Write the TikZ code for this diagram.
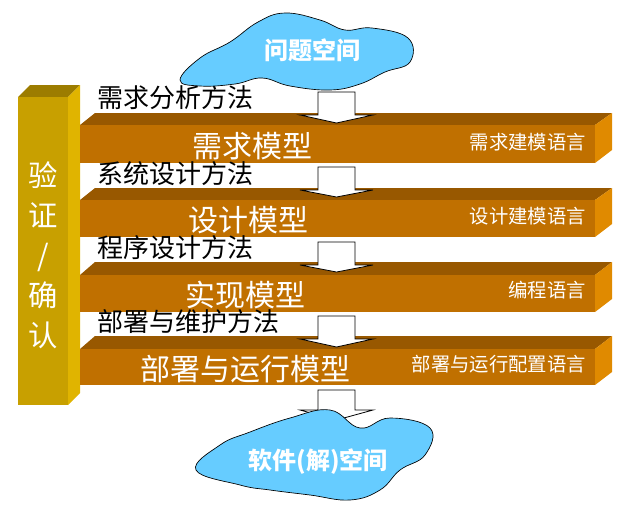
\documentclass[tikz,border=0pt]{standalone}
\usepackage{fontspec}
\setmainfont{Noto Sans CJK SC}
\usetikzlibrary{positioning}
\definecolor{barfront}{HTML}{C07000}
\definecolor{bartop}{HTML}{985800}
\definecolor{barside}{HTML}{E08A00}
\definecolor{pilfront}{HTML}{C8A000}
\definecolor{pilside}{HTML}{E0B400}
\definecolor{piltop}{HTML}{9C7C00}
\definecolor{cloudblue}{HTML}{66CCFF}
\tikzset{
  method/.style={anchor=west, font=\fontsize{19.5}{19.5}\selectfont, inner sep=0},
  model/.style={text=white, font=\fontsize{22.5}{22.5}\selectfont, inner sep=0},
  lang/.style={anchor=east, text=white, font=\fontsize{14.5}{14.5}\selectfont, inner sep=0},
  flow/.style={draw=black, fill=white, line width=0.6pt},
  cloud/.style={draw=black, fill=cloudblue, line width=0.5pt},
  space/.style={text=white, font=\bfseries\fontsize{18}{18}\selectfont}
}
% block arrow: x centre, top, shaft bottom, tip
\newcommand{\blockarrow}[3]{%
  \draw[flow] (318,#1) -- (355,#1) -- (355,#2) -- (373,#2) -- (336.5,#3)
     -- (300,#2) -- (318,#2) -- cycle;}
% bar: top of top face, front top, front bottom
\newcommand{\modelbar}[4]{%
  \fill[bartop] (80,#2) -- (95,#1) -- (612,#1) -- (595,#2) -- cycle;
  \fill[barside] (595,#2) -- (612,#1) -- (612,#3-13) -- (595,#3) -- cycle;
  \fill[barfront] (80,#2) rectangle (595,#3);
  \coordinate (#4) at (337,{(#2+#3)/2});}
\begin{document}
\begin{tikzpicture}[x=0.75pt,y=-0.75pt]
  \useasboundingbox (0,0) rectangle (620,508);
  %Pillar
  \fill[piltop] (18,97) -- (30,85) -- (80,85) -- (68,97) -- cycle;
  \fill[pilside] (68,97) -- (80,85) -- (80,393) -- (68,405) -- cycle;
  \fill[pilfront] (18,97) rectangle (68,405);
  \node[text=white, font=\fontsize{22}{30}\selectfont, align=center] (check) at (43,255) {验\\证\\/\\确\\认};

  %Bars
  \modelbar{113}{125}{163}{req}
  \modelbar{188}{200}{237}{des}
  \modelbar{262}{275}{312}{imp}
  \modelbar{336}{349}{385}{dep}
  \node[model] (reqM) at (252,146) {需求模型};
  \node[model] (desM) at (248,220) {设计模型};
  \node[model] (impM) at (245,295) {实现模型};
  \node[model] (depM) at (245,369) {部署与运行模型};
  \node[lang] (reqL) at (586,142) {需求建模语言};
  \node[lang] (desL) at (586,216) {设计建模语言};
  \node[lang] (impL) at (586,290) {编程语言};
  \node[lang] (depL) at (586,364) {部署与运行配置语言};

  %Methods
  \node[method] (reqA) at (97,98) {需求分析方法};
  \node[method] (desA) at (97,174) {系统设计方法};
  \node[method] (impA) at (97,248) {程序设计方法};
  \node[method] (depA) at (97,322) {部署与维护方法};

  %Flow arrows
  \blockarrow{92}{115}{123}
  \blockarrow{167}{190}{197}
  \blockarrow{242}{265}{272}
  \blockarrow{316}{339}{347}
  \blockarrow{390}{410}{420}

  %Clouds
  \draw[cloud] plot[smooth cycle, tension=0.7] coordinates
    {(180,80) (200,58) (230,42) (258,22) (285,13) (320,20) (345,30) (372,28) (408,38) (410,62) (385,72) (360,84) (330,90) (290,86) (262,78) (235,84) (200,86)};
  \node[space] (problem) at (312,50) {问题空间};
  \draw[cloud] plot[smooth cycle, tension=0.7] coordinates
    {(196,470) (220,445) (250,432) (290,418) (330,410) (360,428) (390,418) (430,428) (425,455) (400,470) (380,490) (350,500) (310,495) (270,490) (240,485)};
  \node[space] (solution) at (318,462) {软件(解)空间};
\end{tikzpicture}
\end{document}
